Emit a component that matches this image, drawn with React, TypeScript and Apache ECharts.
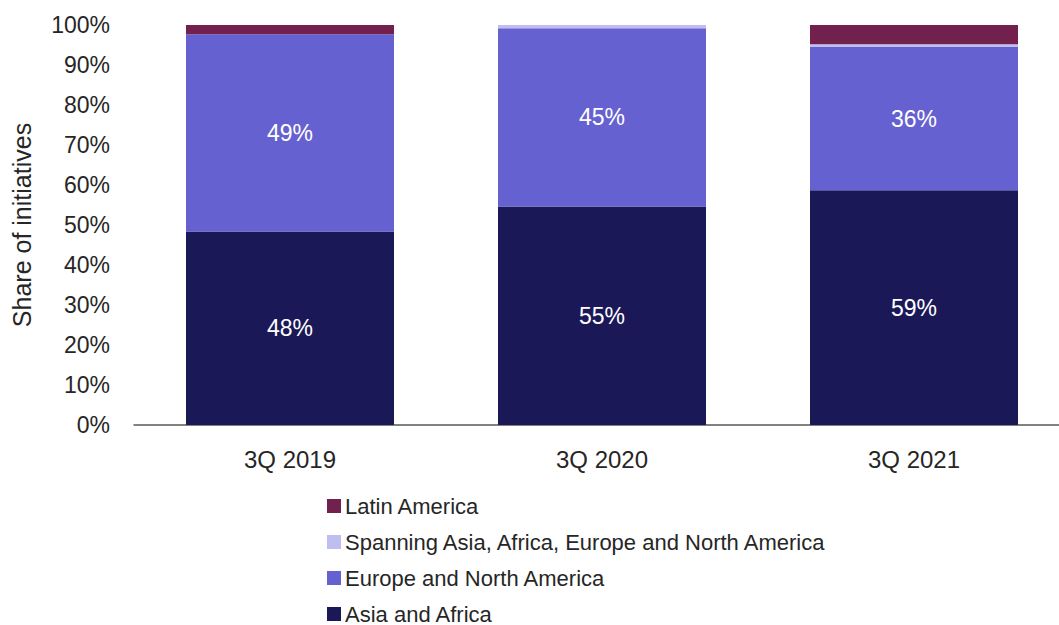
import React, { useEffect, useRef } from "react";
import * as echarts from "echarts";

const categories = ["3Q 2019", "3Q 2020", "3Q 2021"];
const asiaAfrica = [48.4, 54.6, 58.7];
const europeNorthAmerica = [49.3, 44.6, 35.8];
const spanning = [0, 0.8, 0.7];
const latinAmerica = [2.3, 0, 4.8];
const yTicks = [0, 10, 20, 30, 40, 50, 60, 70, 80, 90, 100];

const FONT = "'Liberation Sans', Arial, sans-serif";

export default function App() {
  const ref = useRef<HTMLDivElement>(null);
  useEffect(() => {
    if (!ref.current) return;
    const chart = echarts.init(ref.current, undefined, { renderer: "svg" });
    const labelStyle = {
      show: true,
      position: "inside" as const,
      color: "#ffffff",
      fontSize: 23,
      fontFamily: FONT,
      formatter: (p: any) => Math.round(p.value) + "%",
    };
    chart.setOption({
      animation: false,
      textStyle: { fontFamily: FONT },
      grid: { left: 134, top: 25, width: 936, height: 400, containLabel: false, outerBoundsMode: "none" },
      xAxis: {
        type: "category",
        data: categories,
        axisLine: { show: true, lineStyle: { color: "#595959", width: 1.5 } },
        axisTick: { show: false },
        axisLabel: { color: "#262626", fontSize: 24, margin: 22, fontFamily: FONT },
      },
      yAxis: {
        type: "value",
        min: yTicks[0],
        max: yTicks[yTicks.length - 1],
        interval: 10,
        name: "Share of initiatives",
        nameLocation: "middle",
        nameGap: 100,
        nameTextStyle: { color: "#262626", fontSize: 25, fontFamily: FONT },
        axisLine: { show: false },
        axisTick: { show: false },
        splitLine: { show: false },
        axisLabel: { color: "#262626", fontSize: 23, margin: 24, formatter: "{value}%", fontFamily: FONT },
      },
      legend: {
        orient: "vertical",
        left: 327,
        top: 495,
        padding: 0,
        itemWidth: 14,
        itemHeight: 14,
        itemGap: 14,
        icon: "rect",
        data: ["Latin America", "Spanning Asia, Africa, Europe and North America", "Europe and North America", "Asia and Africa"],
        textStyle: { color: "#262626", fontSize: 22, lineHeight: 22, fontFamily: FONT, padding: [0, 0, 0, -1] },
      },
      series: [
        { name: "Asia and Africa", type: "bar", stack: "s", barWidth: 208, data: asiaAfrica, itemStyle: { color: "#1b1858" }, label: labelStyle },
        { name: "Europe and North America", type: "bar", stack: "s", barWidth: 208, data: europeNorthAmerica, itemStyle: { color: "#6661d1" }, label: labelStyle },
        { name: "Spanning Asia, Africa, Europe and North America", type: "bar", stack: "s", barWidth: 208, data: spanning, itemStyle: { color: "#c0bdf0" } },
        { name: "Latin America", type: "bar", stack: "s", barWidth: 208, data: latinAmerica, itemStyle: { color: "#72214f" } },
      ],
    });
    return () => chart.dispose();
  }, []);
  return (
    <div style={{ position: "fixed", left: 0, top: 0, width: 1059, height: 625, overflow: "hidden", background: "#fff" }}>
      <div ref={ref} style={{ width: 1059, height: 680 }} />
    </div>
  );
}
